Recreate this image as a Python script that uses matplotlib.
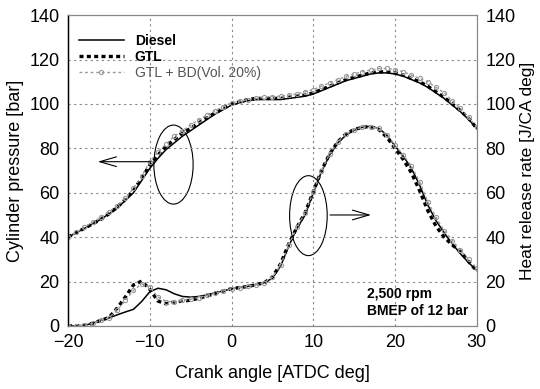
import matplotlib
matplotlib.use('Agg')
import matplotlib.pyplot as plt
from matplotlib.patches import Ellipse

plt.rcParams['font.family'] = ['Liberation Sans', 'DejaVu Sans']

# Crank angle [ATDC deg]
crank = list(range(-20, 31))

# Cylinder pressure [bar]
p_diesel = [40, 42, 44, 46, 48, 50.5, 53, 56.5, 60, 65.5, 71, 75.5, 79.5, 82.5, 85.5,
            88, 90.5, 93, 95.5, 97.5, 99.5, 100.5, 101.5, 102, 102, 102, 102, 102.5,
            103, 103.5, 104.5, 106, 107.5, 109, 110.5, 111.5, 112.5, 113.5, 114, 114,
            113.5, 112.5, 111, 109.5, 107.5, 105, 102.5, 99.5, 96.5, 93, 89]
p_gtl = [40, 42, 44, 46, 48, 50.5, 53.5, 57, 61, 66.5, 72.5, 77, 81, 84, 87,
         89, 91.5, 93.8, 96, 98, 100, 101, 102, 102.5, 102.5, 102.5, 102.5, 103,
         103.5, 104, 105, 106.5, 108, 109.5, 111, 112, 113, 114, 114.5, 114.5,
         114, 113, 111.5, 110, 108, 105.5, 103, 100, 97, 93.5, 89]
p_blend = [40, 42.2, 44.5, 46.7, 49, 51.5, 54, 57.5, 62, 67.5, 74, 78.5, 82, 85.5, 88,
           90.5, 93, 95, 97, 98.8, 100.5, 101.3, 102, 102.5, 103, 103.3, 103.5, 104,
           104.5, 105.5, 106.5, 108, 109.5, 111, 112.5, 113.5, 114.5, 115.3, 116, 116,
           115.5, 114.5, 113, 111.5, 110, 107.5, 105, 101.5, 98, 94, 89.5]

# Heat release rate [J/CA deg]
h_diesel = [0, 0, 0.3, 1.2, 2.5, 3.6, 5, 6.3, 7.5, 11, 15.4, 17, 16.3, 14.5, 13.3,
            13, 13.3, 14, 15, 15.8, 16.8, 17.3, 17.8, 18.7, 19.5, 21.5, 27, 36, 44, 50,
            60, 69.5, 77, 82.5, 86, 88.2, 89.5, 90, 89, 86, 81, 76.5, 71, 63.5, 54.5,
            47.5, 42, 37, 32.5, 28.5, 25]
h_gtl = [0, 0, 0.3, 1.2, 2.5, 3.8, 8, 13, 18.5, 20.2, 16.5, 11.2, 10, 10.8, 11.2,
         11.6, 12.5, 13.5, 14.7, 15.8, 16.8, 17.3, 17.8, 18.6, 19.5, 22, 28, 37, 44.5, 51,
         60.5, 70, 77.5, 83, 86.5, 88.5, 89.5, 89.8, 88.5, 85, 80, 75, 69, 61, 52,
         45, 40, 36.5, 33.5, 29, 24.8]
h_blend = [0, 0, 0.3, 1.2, 2.5, 3.8, 7, 11.5, 16, 19, 17.5, 13, 11, 11, 11.5,
           12, 12.8, 13.8, 14.8, 15.8, 16.8, 17.3, 17.8, 18.6, 19.5, 22, 27.5, 36.5, 44.5, 51,
           60.5, 70, 77.5, 83, 86.5, 88.5, 89.5, 89.8, 89, 86, 81.5, 77, 72, 65, 56,
           49, 43, 38.5, 34, 30, 26]

labels = ['Diesel', 'GTL', 'GTL + BD(Vol. 20%)']

fig = plt.figure(figsize=(5.4, 3.89), dpi=100)
ax = fig.add_axes([0.126, 0.162, 0.757, 0.799])
ax2 = ax.twinx()

grey = '#9a9a9a'
styles = [
    dict(color='black', lw=1.1, ls='-'),
    dict(color='black', lw=2.4, ls=(0, (1.2, 1.0))),
    dict(color=grey, lw=1.0, ls=(0, (2, 2)), marker='o', ms=3, mfc='none', mec=grey, mew=0.8),
]

handles = []
for y, st, lab in zip([p_diesel, p_gtl, p_blend], styles, labels):
    h, = ax.plot(crank, y, label=lab, **st)
    handles.append(h)
for y, st in zip([h_diesel, h_gtl, h_blend], styles):
    ax2.plot(crank, y, **st)

for a in (ax, ax2):
    a.set_xlim(-20, 30)
    a.set_ylim(0, 140)
    a.set_yticks(range(0, 141, 20))
    a.tick_params(length=0, labelsize=13, pad=6)
ax.set_xticks(range(-20, 31, 10))
ax.grid(True, ls=(0, (2, 3)), color='#888888', lw=0.8)
for s in ['top', 'right', 'bottom']:
    ax.spines[s].set_color('#888888')
    ax.spines[s].set_linewidth(0.8)
    ax2.spines[s].set_color('#888888')
    ax2.spines[s].set_linewidth(0.8)
ax.spines['left'].set_linewidth(1.0)

ax.set_xlabel('Crank angle [ATDC deg]', fontsize=13, labelpad=10)
ax.set_ylabel('Cylinder pressure [bar]', fontsize=13, labelpad=4)
ax2.set_ylabel('Heat release rate [J/CA deg]', fontsize=12.5, labelpad=3)

leg = ax.legend(handles=handles, loc='upper left', frameon=False, fontsize=10,
                handlelength=3.2, labelspacing=0.15, borderaxespad=0.4,
                bbox_to_anchor=(0.0, 0.975))
texts = leg.get_texts()
texts[0].set_fontweight('bold')
texts[1].set_fontweight('bold')
texts[2].set_color('#555555')

# Ellipses and arrows marking the two curve groups
ax.add_patch(Ellipse((-7.1, 72.7), 4.8, 35.6, fill=False, color='black', lw=0.8))
ax.annotate('', xy=(-16.7, 74), xytext=(-9.5, 74),
            arrowprops=dict(arrowstyle='->,head_length=1.2,head_width=0.35', lw=0.8, color='black'))
ax.add_patch(Ellipse((9.4, 49.7), 4.6, 36, fill=False, color='black', lw=0.8))
ax.annotate('', xy=(17.4, 50), xytext=(11.7, 50),
            arrowprops=dict(arrowstyle='->,head_length=1.2,head_width=0.35', lw=0.8, color='black'))

ax.text(16.6, 3.5, '2,500 rpm\nBMEP of 12 bar', fontsize=10, fontweight='bold',
        ha='left', va='bottom', linespacing=1.3)

fig.savefig('out.png', dpi=100)
